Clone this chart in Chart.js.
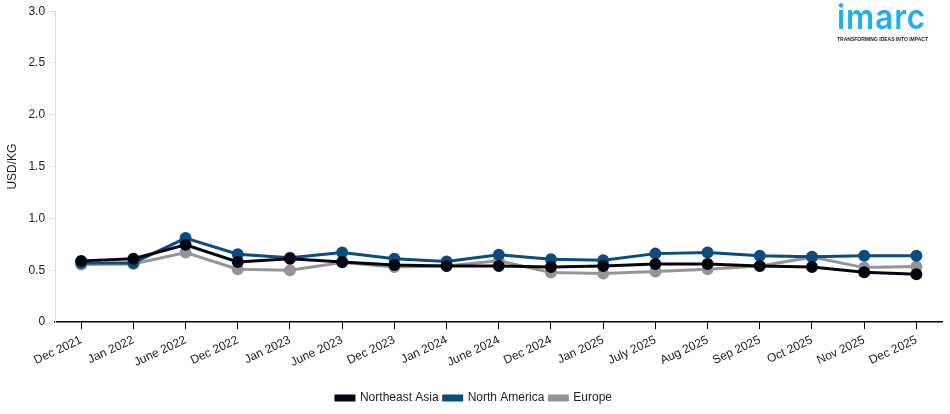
<!DOCTYPE html>
<html>
<head>
<meta charset="utf-8">
<script src="https://cdn.jsdelivr.net/npm/chart.js@4"></script>
<style>
html,body{margin:0;padding:0;background:#fff;}
#wrap{position:relative;width:950px;height:414px;}
.lg{position:absolute;left:837px;white-space:nowrap;transform-origin:0 0;}
#logoT{top:-3px;font-family:"Inter","Liberation Sans",sans-serif;font-size:34px;line-height:40px;color:#1cb0f0;font-weight:600;letter-spacing:1px;}
#logoS{top:36px;font-family:"Liberation Sans",Arial,sans-serif;font-size:6px;line-height:7px;font-weight:bold;color:#222;}
</style>
</head>
<body>
<div id="wrap">
<canvas id="c" width="950" height="414"></canvas>
<span id="logoT" class="lg">imarc</span>
<span id="logoS" class="lg">TRANSFORMING IDEAS INTO IMPACT</span>
</div>
<script>
const categories = ["Dec 2021","Jan 2022","June 2022","Dec 2022","Jan 2023","June 2023","Dec 2023","Jan 2024","June 2024","Dec 2024","Jan 2025","July 2025","Aug 2025","Sep 2025","Oct 2025","Nov 2025","Dec 2025"];
const northeastAsia = [0.59,0.61,0.745,0.58,0.61,0.58,0.55,0.54,0.54,0.53,0.54,0.56,0.56,0.54,0.53,0.48,0.46];
const northAmerica = [0.57,0.57,0.81,0.655,0.62,0.67,0.61,0.585,0.65,0.605,0.595,0.66,0.67,0.64,0.63,0.64,0.64];
const europe = [0.555,0.56,0.67,0.51,0.50,0.575,0.53,0.54,0.59,0.477,0.467,0.487,0.51,0.54,0.626,0.525,0.535];
const yTicks = [0,0.5,1.0,1.5,2.0,2.5,3.0];

function fit(id, w){const e=document.getElementById(id);const r=e.getBoundingClientRect().width;e.style.transform='scaleX('+(w/r)+')';}
fit('logoT', 89); fit('logoS', 91);

const font = {family:"'Liberation Sans', Arial, sans-serif", size:12};
function ds(label, data, color){
  return {label, data, borderColor:color, backgroundColor:color, pointBackgroundColor:color, pointBorderColor:color,
    borderWidth:3, pointRadius:4.5, pointHoverRadius:4.5, tension:0};
}
new Chart(document.getElementById('c'), {
  type:'line',
  data:{labels:categories, datasets:[
    ds('Northeast Asia', northeastAsia, '#050510'),
    ds('North America', northAmerica, '#0a4d80'),
    ds('Europe', europe, '#969494')
  ]},
  options:{
    responsive:false, animation:false, devicePixelRatio:1,
    layout:{padding:{left:5,right:7,top:10,bottom:0}},
    plugins:{
      legend:{position:'bottom', labels:{font:font, color:'#222', boxWidth:18, boxHeight:4, padding:5}},
      tooltip:{enabled:false}
    },
    scales:{
      x:{offset:true,
        afterFit:(s)=>{ s.height = 65; },
        grid:{drawOnChartArea:false, drawTicks:true, tickLength:7, color:'#000', offset:false},
        border:{color:'#000', width:1.5},
        ticks:{font:font, color:'#222', minRotation:25, maxRotation:25, autoSkip:false, padding:4}
      },
      y:{min:0,max:3,
        afterBuildTicks:(ax)=>{ax.ticks = yTicks.map(v=>({value:v}));},
        title:{display:true, text:'USD/KG', font:font, color:'#222', padding:{top:0,bottom:5}},
        grid:{drawOnChartArea:false, drawTicks:true, tickLength:6, color:'#ddd'},
        border:{color:'#ddd', width:1},
        ticks:{font:font, color:'#222', padding:4, callback:(v)=> v===0 ? '0' : Number(v).toFixed(1)}
      }
    }
  }
});
</script>
</body>
</html>
